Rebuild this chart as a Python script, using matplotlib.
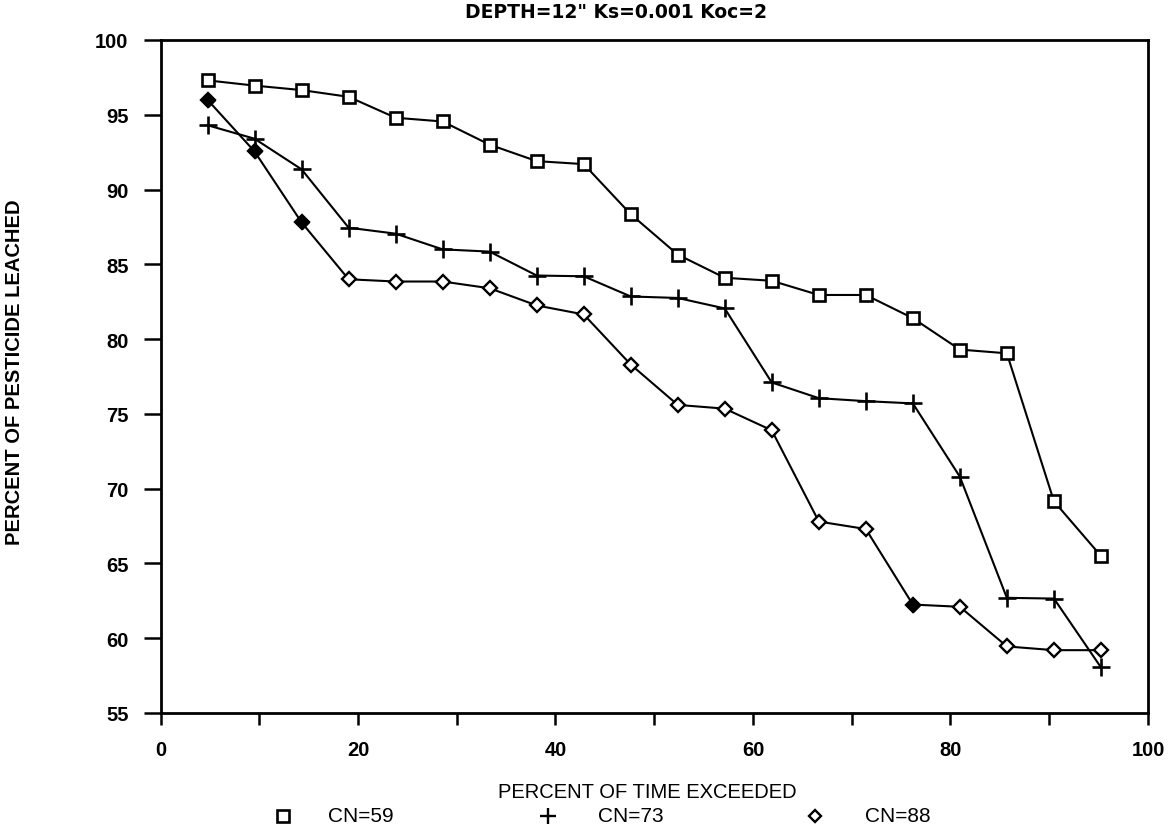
import matplotlib
matplotlib.use('Agg')
import matplotlib.pyplot as plt
from matplotlib.lines import Line2D

plt.rcParams['font.family'] = ['Liberation Sans', 'DejaVu Sans']

# percent of time exceeded: 20 equally spaced exceedance points (i/21)
pct_time = [4.76, 9.52, 14.29, 19.05, 23.81, 28.57, 33.33, 38.10, 42.86, 47.62,
            52.38, 57.14, 61.90, 66.67, 71.43, 76.19, 80.95, 85.71, 90.48, 95.24]

cn59 = [97.3, 96.95, 96.65, 96.2, 94.8, 94.55, 93.0, 91.9, 91.7, 88.35,
        85.65, 84.1, 83.9, 82.95, 82.95, 81.4, 79.3, 79.05, 69.15, 65.5]
cn73 = [94.3, 93.4, 91.35, 87.45, 87.05, 86.0, 85.85, 84.25, 84.2, 82.85,
        82.75, 82.05, 77.1, 76.05, 75.85, 75.7, 70.8, 62.7, 62.65, 58.05]
cn88 = [96.0, 92.55, 87.8, 84.0, 83.85, 83.85, 83.4, 82.25, 81.65, 78.3,
        75.6, 75.35, 73.9, 67.8, 67.3, 62.25, 62.1, 59.45, 59.2, 59.2]

series_labels = ['CN=59', 'CN=73', 'CN=88']

fig = plt.figure(figsize=(11.69, 8.28), dpi=100)
ax = fig.add_axes([0.1373, 0.1377, 0.8447, 0.8128])

lw = 1.5
ax.plot(pct_time, cn59, color='black', linewidth=lw, marker='s',
        markersize=9, markerfacecolor='white', markeredgecolor='black',
        markeredgewidth=1.9, zorder=3)
ax.plot(pct_time, cn73, color='black', linewidth=lw, marker='+',
        markersize=13, markeredgewidth=1.9, zorder=3)
ax.plot(pct_time, cn88, color='black', linewidth=lw, marker='D',
        markersize=7.5, markerfacecolor='white', markeredgecolor='black',
        markeredgewidth=1.7, zorder=3)
# the scan shows a few of the diamonds blotted solid
solid = [0, 1, 2, 15]
ax.plot([pct_time[i] for i in solid], [cn88[i] for i in solid],
        linestyle='none', marker='D', markersize=7.5, color='black', zorder=4)

ax.set_xlim(0, 100)
ax.set_ylim(55, 100)
ax.set_xticks(range(0, 101, 20))
ax.set_xticks(range(10, 100, 20), minor=True)
ax.set_yticks(range(55, 101, 5))

for s in ax.spines.values():
    s.set_linewidth(2.0)

ax.tick_params(axis='x', which='both', direction='out', length=8.5, width=1.8,
               pad=11, labelsize=14.5)
ax.tick_params(axis='y', direction='out', length=12, width=1.8, pad=11,
               labelsize=14.5)
for lab in ax.get_xticklabels() + ax.get_yticklabels():
    lab.set_fontweight('bold')

fig.text(616 / 1169, 1 - 13 / 828, 'DEPTH=12" Ks=0.001 Koc=2', ha='center',
         va='center', fontsize=13.5, fontweight='bold', family='DejaVu Sans')
fig.text(15 / 1169, 1 - 372 / 828, 'PERCENT OF PESTICIDE LEACHED', rotation=90,
         ha='center', va='center', fontsize=14.5, fontweight='bold')
fig.text(647 / 1169, 1 - 793 / 828, 'PERCENT OF TIME EXCEEDED', ha='center',
         va='center', fontsize=14.5)

# legend row under the x label: marker, then label text
leg_y = 1 - 817 / 828
marker_x = [283, 548, 815]
text_x = [328, 598, 865]
marker_kw = [
    dict(marker='s', markersize=8, markerfacecolor='white',
         markeredgecolor='black', markeredgewidth=1.9),
    dict(marker='+', markersize=11, color='black', markeredgewidth=1.7),
    dict(marker='D', markersize=6, markerfacecolor='white',
         markeredgecolor='black', markeredgewidth=1.7),
]
for mx, tx, kw, lab in zip(marker_x, text_x, marker_kw, series_labels):
    fig.add_artist(Line2D([mx / 1169], [leg_y], transform=fig.transFigure,
                          linestyle='none', **kw))
    fig.text(tx / 1169, leg_y, lab, ha='left', va='center', fontsize=15)

fig.savefig('out.png', dpi=100)
